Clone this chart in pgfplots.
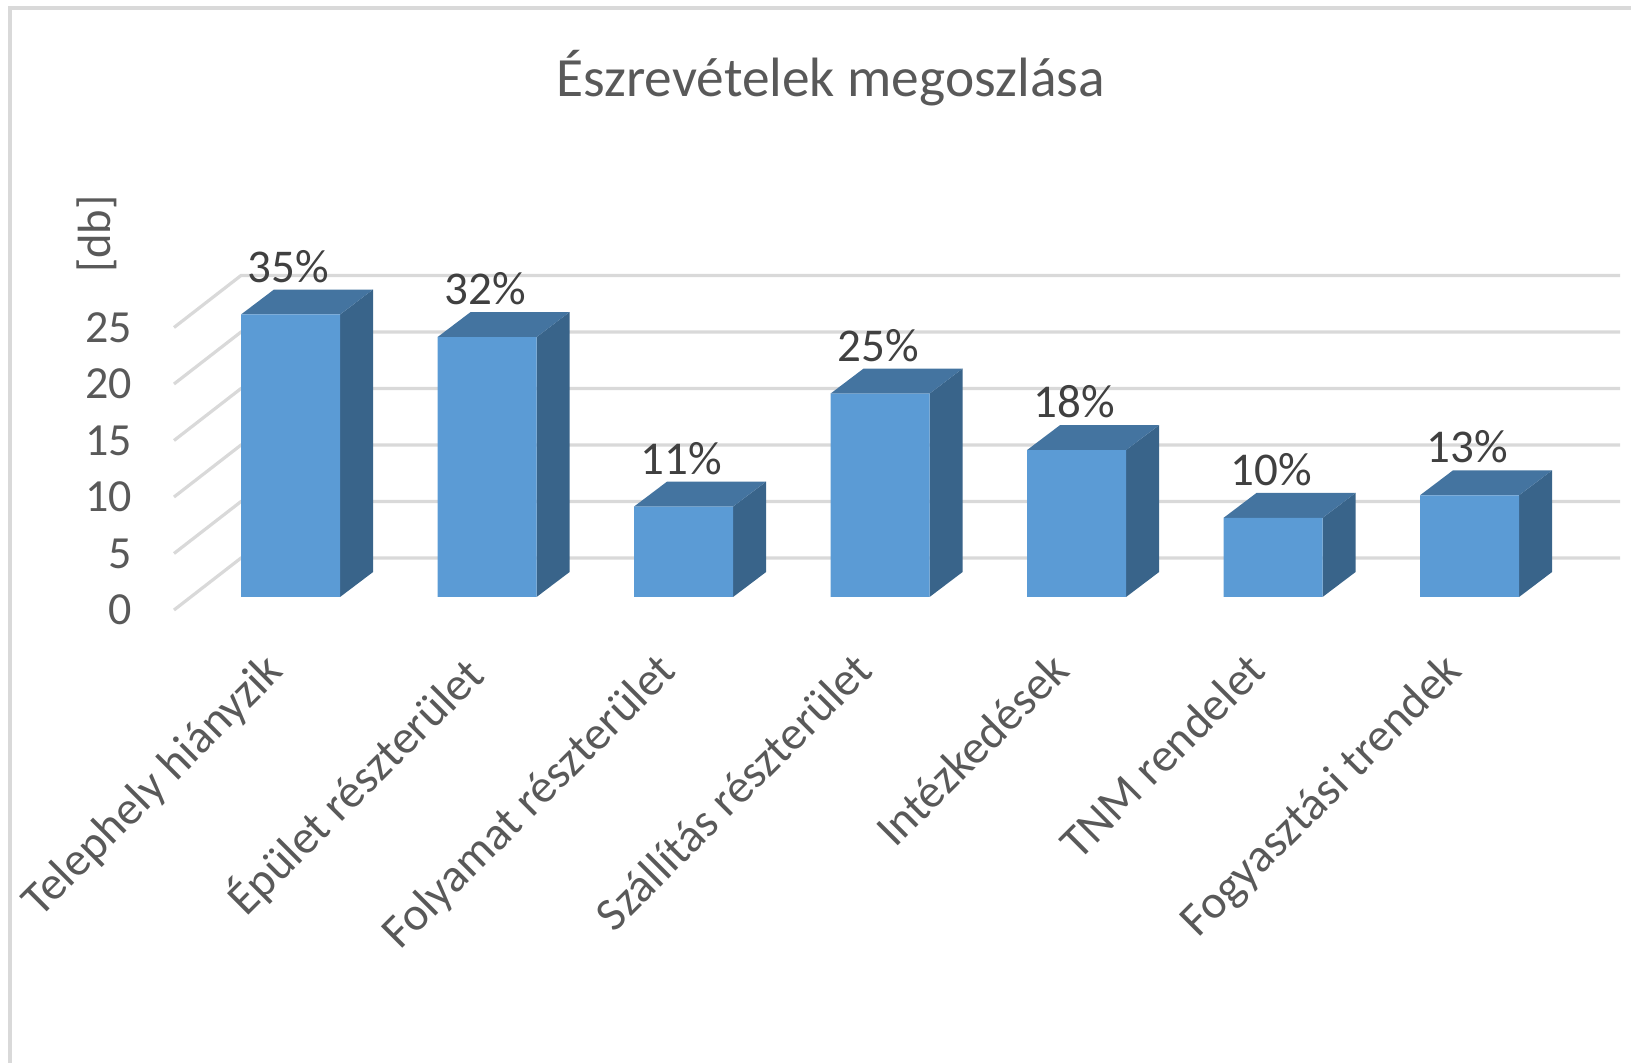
\documentclass[border=0pt]{standalone}
\usepackage{pgfplots}
\usepackage{fontspec}
\setmainfont{Carlito}
\pgfplotsset{compat=1.18}
\usepackage{pgfplotstable}
\definecolor{front}{HTML}{5B9BD5}
\definecolor{sidec}{HTML}{39648A}
\definecolor{topc}{HTML}{4474A0}
\definecolor{gridc}{HTML}{D9D9D9}
\definecolor{textc}{HTML}{595959}
\definecolor{labc}{HTML}{404040}
\pgfplotstableread{
x y pct
0 25 35
1 23 32
2 8 11
3 18 25
4 13 18
5 7 10
6 9 13
}\datatable
\newcommand\barfaces[2]{%
 \pgfmathsetmacro\xa{#1-0.252}\pgfmathsetmacro\xb{#1+0.252}%
 \pgfmathsetmacro\xc{#1+0.42}\pgfmathsetmacro\xd{#1-0.084}%
 \pgfmathsetmacro\yt{#2+2.21}%
 \addplot[fill=sidec,draw=none,mark=none] coordinates {(\xb,0) (\xc,2.21) (\xc,\yt) (\xb,#2)};
 \addplot[fill=topc,draw=none,mark=none] coordinates {(\xa,#2) (\xb,#2) (\xc,\yt) (\xd,\yt)};
}
\begin{document}
\begin{tikzpicture}
\path[use as bounding box] (0,0) rectangle (815.5pt,531.5pt);
\draw[gridc,line width=2pt] (5pt,0pt) -- (5pt,527.5pt) -- (815.5pt,527.5pt);
\begin{axis}[
  at={(87pt,226.5pt)},anchor=south west,
  x=98.25pt,y=5.65pt,
  xmin=-0.593,xmax=6.766,ymin=-1.15,ymax=33,
  clip=false,
  axis line style={draw=none},
  tick style={draw=none},
  major tick length=0pt,
  ytick={0,5,10,15,20,25},
  xtick={0,1,2,3,4,5,6},
  xticklabels={Telephely hiányzik,Épület részterület,Folyamat részterület,Szállítás részterület,Intézkedések,TNM rendelet,Fogyasztási trendek},
  /pgf/number format/assume math mode=true,
  yticklabel style={font=\fontsize{23}{27}\selectfont,text=textc,anchor=east,xshift=-17.5pt,yshift=-6.5pt},
  xticklabel style={font=\fontsize{23.6}{28}\selectfont,text=textc,rotate=45,anchor=north east,xshift=-20.7pt,yshift=-0.5pt},
  title={Észrevételek megoszlása},
  title style={font=\fontsize{27.7}{32}\selectfont,text=textc,at={(axis description cs:0.454,1.348)},anchor=center},
  ylabel={[db]},
  ylabel style={font=\fontsize{23.3}{27}\selectfont,text=textc,at={(axis description cs:-0.0533,0.974)},anchor=center},
]
\addplot[gridc,line width=1.6pt,mark=none] coordinates {
 (-0.593,-1.15) (-0.252,3.45) (6.766,3.45)

 (-0.593,3.85) (-0.252,8.45) (6.766,8.45)

 (-0.593,8.85) (-0.252,13.45) (6.766,13.45)

 (-0.593,13.85) (-0.252,18.45) (6.766,18.45)

 (-0.593,18.85) (-0.252,23.45) (6.766,23.45)

 (-0.593,23.85) (-0.252,28.45) (6.766,28.45)
};
\barfaces{0}{25}
\barfaces{1}{23}
\barfaces{2}{8}
\barfaces{3}{18}
\barfaces{4}{13}
\barfaces{5}{7}
\barfaces{6}{9}
\addplot[ybar,bar width=49.5pt,fill=front,draw=none,
  point meta=explicit symbolic,
  nodes near coords={\pgfplotspointmeta\%},
  every node near coord/.append style={font=\fontsize{23.5}{27}\selectfont,text=labc,anchor=south,yshift=12.5pt,xshift=-1pt}]
  table[x=x,y=y,meta=pct] {\datatable};
\end{axis}
\end{tikzpicture}
\end{document}
